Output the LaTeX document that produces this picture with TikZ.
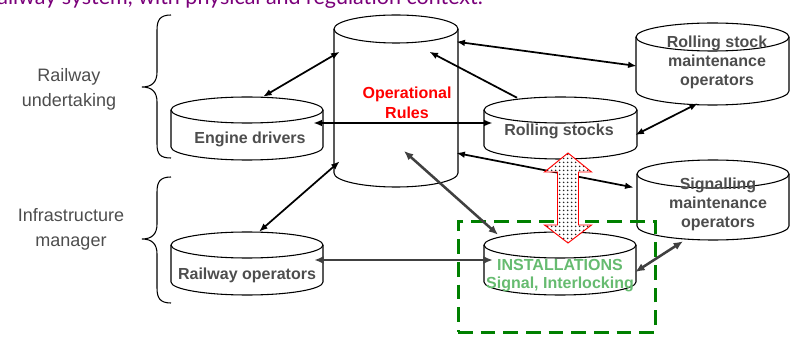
\documentclass[tikz,border=0pt]{standalone}
\usepackage{fontspec}
\setmainfont{Liberation Sans}
\newfontfamily\headfont{Lato}
\usetikzlibrary{arrows.meta,calc,fit,patterns}

\definecolor{txtgray}{RGB}{77,77,77}
\definecolor{linkgray}{RGB}{64,64,64}
\definecolor{headpurple}{RGB}{122,0,122}
\definecolor{instgreen}{RGB}{102,187,112}
\definecolor{boxgreen}{RGB}{0,128,0}
\definecolor{rulered}{RGB}{255,0,0}

% coarse dot fill for the physical interface arrow
\pgfdeclarepatternformonly{coarsedots}{\pgfqpoint{-1pt}{-1pt}}{\pgfqpoint{2pt}{2pt}}{\pgfqpoint{3pt}{3pt}}%
  {\pgfpathcircle{\pgfqpoint{0.5pt}{0.5pt}}{0.8pt}\pgfusepath{fill}}

% drum (cylinder): name, centre x, top-ellipse y, bottom-ellipse y, x radius, y radius
\newcommand\drum[6]{%
  \draw[drumline] (#2-#5,-#3) -- (#2-#5,-#4)
     arc[start angle=180,end angle=360,x radius=#5,y radius=#6] -- (#2+#5,-#3);
  \draw[drumline] (#2,-#3) ellipse[x radius=#5,y radius=#6];
  \node[fit={(#2-#5,-#3+#6) (#2+#5,-#4-#6)},inner sep=0pt] (#1) {};}

\begin{document}
\begin{tikzpicture}[x=0.75pt,y=0.75pt,
  drumline/.style={line width=0.8pt},
  unit/.style={font=\bfseries\fontsize{12}{14.25}\selectfont,text=txtgray,align=center,inner sep=0pt},
  side/.style={font=\fontsize{13.5}{18.75}\selectfont,text=txtgray,align=center,inner sep=0pt},
  link/.style={line width=1.3pt,{Latex[length=6.5pt,width=5pt]}-{Latex[length=6.5pt,width=5pt]}},
  onelink/.style={line width=1.3pt,-{Latex[length=6.5pt,width=5pt]}},
  heavylink/.style={line width=1.9pt,draw=linkgray,{Latex[length=7pt,width=6pt]}-{Latex[length=7pt,width=6pt]}},
  bracepath/.style={line width=0.8pt}]

\useasboundingbox (0,0) rectangle (795,-338);
\clip (0,0) rectangle (795,-338);

% heading line
\node[anchor=base east,font=\headfont\fontsize{16.1}{18}\selectfont,text=headpurple,inner sep=0pt]
  (heading) at (483,-5) {Railway system, with physical and regulation context.};

% actors and rules
\drum{rules}{396}{29}{173}{62}{14}
\drum{ed}{247}{110}{147}{76}{13}
\drum{ro}{247}{245}{282}{76}{13}
\drum{rs}{560.5}{110}{146}{76.5}{13}
\drum{rsm}{712.5}{37}{91}{76.5}{14}
\drum{sm}{713}{174}{226}{76}{14}
\drum{inst}{560}{245}{282}{76}{13}

% installations zone
\node[fit={(458,-222) (655,-332)},inner sep=0pt,draw=boxgreen,line width=2.25pt,
  dash pattern=on 11pt off 6pt] (zone) {};

% braces on the left
\draw[bracepath] (171,-15) .. controls (160,-15) and (157,-20) .. (157,-30) -- (157,-72)
  .. controls (157,-82) and (152,-87) .. (142,-87)
  .. controls (152,-87) and (157,-92) .. (157,-102) -- (157,-144)
  .. controls (157,-154) and (160,-158) .. (171,-158);
\draw[bracepath] (171,-177) .. controls (160,-177) and (157,-182) .. (157,-192) -- (157,-224)
  .. controls (157,-234) and (152,-239) .. (142,-239)
  .. controls (152,-239) and (157,-244) .. (157,-254) -- (157,-288)
  .. controls (157,-298) and (160,-303) .. (171,-303);

% connectors
\draw[link] ($(rules.north west)+(6,-37)$) -- ($(ed.north)+(16,0)$);
\draw[link] ($(rules.south west)+(6,26)$) -- ($(ro.north)+(12,0)$);
\draw[link] ($(ed.east)+(-10,5.5)$) -- ($(rs.west)+(9,5)$);
\draw[link] ($(rules.north east)+(-2,-27)$) -- ($(rsm.west)+(1,-2)$);
\draw[onelink] ($(rs.north)+(-43.5,-1)$) -- ($(rules.north east)+(-29,-37)$);
\draw[link] ($(rs.east)+(-2,-7)$) -- ($(rsm.south)+(-14.5,2)$);
\draw[link] ($(rules.east)+(-2,-52)$) -- ($(sm.west)+(-3,12.5)$);
\draw[heavylink] ($(rules.center)+(8,-50)$) -- ($(inst.north)+(-62,-3)$);
\draw[heavylink] ($(ro.east)+(-9,3.5)$) -- ($(inst.west)+(9,3.5)$);
\draw[heavylink] ($(inst.east)+(-1,-8.5)$) -- ($(sm.south)+(-30,-1)$);

% physical interface between rolling stock and installations
\fill[white]
  (568,-153) -- (591.5,-172) -- (578.5,-172) -- (578.5,-225) -- (591.5,-225) -- (568,-243)
  -- (544.5,-225) -- (557.5,-225) -- (557.5,-172) -- (544.5,-172) -- cycle;
\draw[draw=rulered,line width=0.7pt,pattern=coarsedots,pattern color=black!85]
  (568,-153) -- (591.5,-172) -- (578.5,-172) -- (578.5,-225) -- (591.5,-225) -- (568,-243)
  -- (544.5,-225) -- (557.5,-225) -- (557.5,-172) -- (544.5,-172) -- cycle;

% labels
\node[side] (ru) at (69,-89) {Railway\\undertaking};
\node[side] (im) at (71,-229) {Infrastructure\\manager};
\node[unit,text=rulered,font=\bfseries\fontsize{12}{15}\selectfont] (rulestxt) at (407,-103) {Operational\\Rules};
\node[unit] (edtxt) at (250,-139) {Engine drivers};
\node[unit] (rotxt) at (247,-275) {Railway operators};
\node[unit] (rstxt) at (559,-131) {Rolling stocks};
\node[unit] (rsmtxt) at (717,-62) {Rolling stock\\maintenance\\operators};
\node[unit] (smtxt) at (718,-204) {Signalling\\maintenance\\operators};
\node[unit,text=instgreen,font=\bfseries\fontsize{12}{13.5}\selectfont] (insttxt) at (560,-276) {INSTALLATIONS\\Signal, Interlocking};
\end{tikzpicture}
\end{document}
